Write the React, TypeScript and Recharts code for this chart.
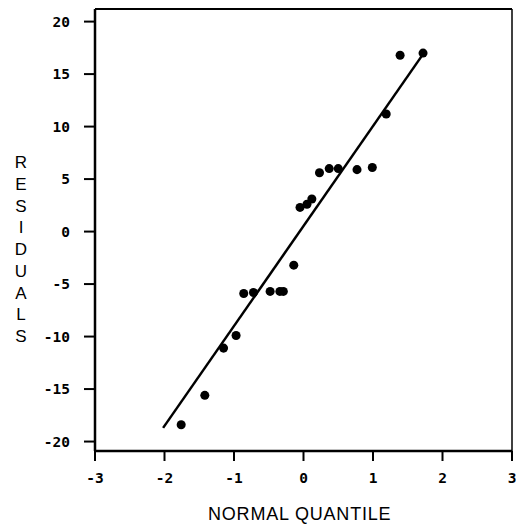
import {
  ReferenceLine,
  Scatter,
  ScatterChart,
  XAxis,
  YAxis,
  ZAxis,
} from "recharts";

const quantiles = [
  1.72, 1.39, 1.19, 0.99, 0.77, 0.5, 0.37, 0.23, 0.12, 0.05, -0.05,
  -0.14, -0.29, -0.34, -0.48, -0.72, -0.86, -0.97, -1.15, -1.42, -1.76,
];
const residuals = [
  17.0, 16.8, 11.2, 6.1, 5.9, 6.0, 6.0, 5.6, 3.1, 2.6, 2.3,
  -3.2, -5.7, -5.7, -5.7, -5.8, -5.9, -9.9, -11.1, -15.6, -18.4,
];
const fitX = [-2.02, 1.73];
const fitY = [-18.7, 17.0];
const xTicks = [-3, -2, -1, 0, 1, 2, 3];
const yTicks = [-20, -15, -10, -5, 0, 5, 10, 15, 20];
const yLabel = "RESIDUALS";

const points = quantiles.map((q, i) => ({ x: q, y: residuals[i] }));
const fitLine = fitX.map((x, i) => ({ x, y: fitY[i] }));

const tickStyle = {
  fontFamily: "'DejaVu Sans Mono', monospace",
  fontWeight: 700,
  fontSize: 14.5,
  fill: "#000",
};

export default function App() {
  return (
    <div style={{ position: "absolute", left: 0, top: 0, width: 516, height: 529, background: "#fff" }}>
      <ScatterChart width={516} height={529} margin={{ top: 9, right: 4, bottom: 38, left: 0 }}>
        <XAxis
          type="number"
          dataKey="x"
          domain={[-3, 3]}
          ticks={xTicks}
          allowDataOverflow
          axisLine={{ stroke: "#000", strokeWidth: 2.5 }}
          tickLine={{ stroke: "#000", strokeWidth: 2 }}
          tickSize={10}
          tickMargin={12}
          tick={tickStyle}
          height={40}
        />
        <YAxis
          type="number"
          dataKey="y"
          domain={[-20.9, 21.2]}
          ticks={yTicks}
          allowDataOverflow
          axisLine={{ stroke: "#000", strokeWidth: 2.5 }}
          tickLine={{ stroke: "#000", strokeWidth: 2 }}
          tickSize={11}
          tickMargin={14}
          tick={tickStyle}
          width={95}
        />
        <ZAxis range={[40, 40]} />
        <ReferenceLine y={21.2} stroke="#000" strokeWidth={2} />
        <ReferenceLine x={3} stroke="#000" strokeWidth={1.5} />
        <Scatter
          data={fitLine}
          line={{ stroke: "#000", strokeWidth: 2.5 }}
          shape={() => null}
          isAnimationActive={false}
        />
        <Scatter data={points} fill="#000" shape="circle" isAnimationActive={false} />
      </ScatterChart>
      <div
        style={{
          position: "absolute",
          left: 12,
          top: 152,
          width: 18,
          fontFamily: "'Liberation Sans', Arial, sans-serif",
          fontSize: 17,
          lineHeight: "21.75px",
          textAlign: "center",
          color: "#000",
        }}
      >
        {yLabel.split("").map((ch, i) => (
          <div key={i}>{ch}</div>
        ))}
      </div>
      <div
        style={{
          position: "absolute",
          left: 0,
          width: 600,
          top: 504,
          fontFamily: "'Liberation Sans', Arial, sans-serif",
          fontSize: 18,
          letterSpacing: 0.8,
          color: "#000",
        }}
      >
        <span style={{ position: "absolute", left: 208, whiteSpace: "nowrap" }}>NORMAL QUANTILE</span>
      </div>
    </div>
  );
}
